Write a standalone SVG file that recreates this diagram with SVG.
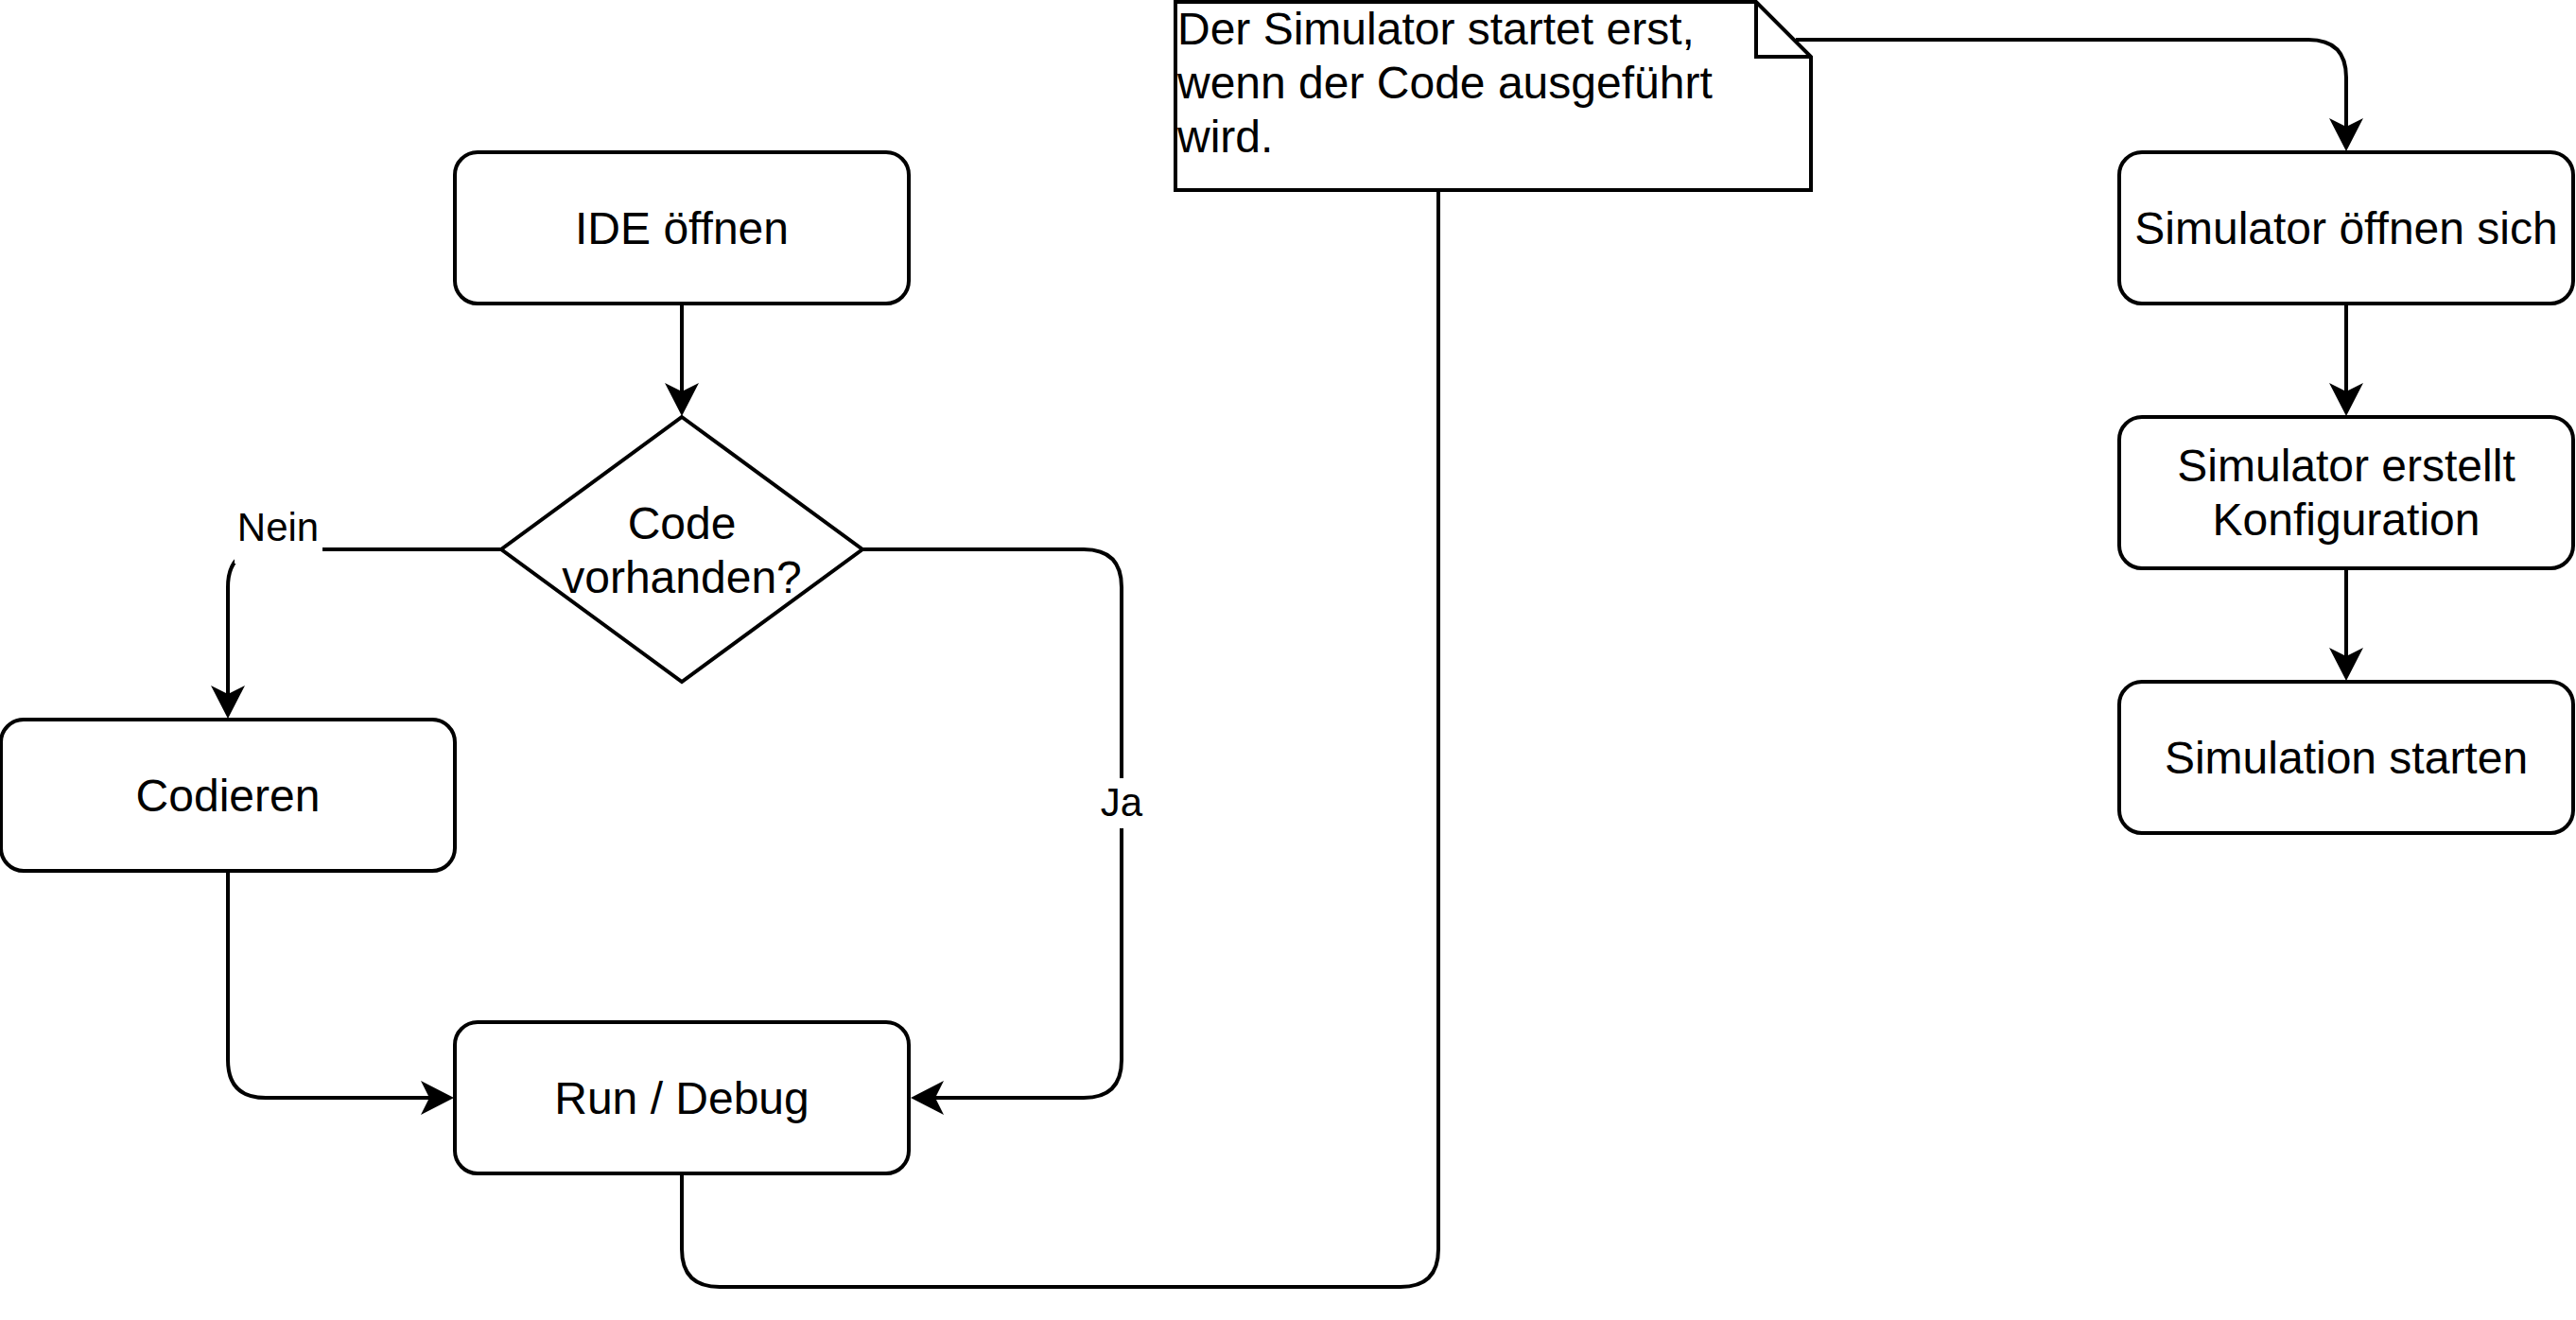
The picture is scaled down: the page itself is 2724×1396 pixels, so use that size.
<svg xmlns="http://www.w3.org/2000/svg" width="2724" height="1396" viewBox="0 0 2724 1396">
  <style>
    .node { fill: #ffffff; stroke: #000000; stroke-width: 4; }
    .edge { fill: none; stroke: #000000; stroke-width: 4; }
    .lbl { font-family: "Liberation Sans", Arial, Helvetica, sans-serif; font-size: 48px; fill: #000000; text-anchor: middle; }
    .note { font-family: "Liberation Sans", Arial, Helvetica, sans-serif; font-size: 48px; fill: #000000; text-anchor: start; }
    .elbl { font-family: "Liberation Sans", Arial, Helvetica, sans-serif; font-size: 42px; fill: #000000; text-anchor: middle; }
    .lblbg { fill: #ffffff; stroke: none; }
  </style>
  <defs>
    <marker id="arrow" markerUnits="userSpaceOnUse" viewBox="-16 -19 37 38" refX="0" refY="0" markerWidth="37" markerHeight="38" orient="auto" overflow="visible">
      <path d="M20,0 L-15,-18 L-6,0 L-15,18 Z" fill="#000000" stroke="none"/>
    </marker>
  </defs>
  <rect x="0" y="0" width="2724" height="1396" fill="#ffffff"/>

  <g id="connectors">
    <path class="edge" d="M721,321 V420" marker-end="url(#arrow)"/>
    <path class="edge" d="M530,581 H281 Q241,581 241,621 V740" marker-end="url(#arrow)"/>
    <path class="edge" d="M912,581 H1146 Q1186,581 1186,621 V1121 Q1186,1161 1146,1161 H983" marker-end="url(#arrow)"/>
    <path class="edge" d="M241,921 V1121 Q241,1161 281,1161 H460" marker-end="url(#arrow)"/>
    <path class="edge" d="M721,1241 V1321 Q721,1361 761,1361 H1481 Q1521,1361 1521,1321 V201"/>
    <path class="edge" d="M1899,42 H2441 Q2481,42 2481,82 V140" marker-end="url(#arrow)"/>
    <path class="edge" d="M2481,321 V420" marker-end="url(#arrow)"/>
    <path class="edge" d="M2481,601 V700" marker-end="url(#arrow)"/>
    <g id="label-nein">
      <rect class="lblbg" x="248" y="538" width="93" height="58"/>
      <text class="elbl" x="294" y="572">Nein</text>
    </g>
    <g id="label-ja">
      <rect class="lblbg" x="1163" y="823" width="47" height="53"/>
      <text class="elbl" x="1186" y="863">Ja</text>
    </g>
  </g>

  <g id="node-ide">
    <rect class="node" x="481" y="161" width="480" height="160" rx="24" ry="24"/>
    <text class="lbl" x="721" y="258">IDE öffnen</text>
  </g>
  <g id="node-decision">
    <path class="node" d="M721,441 L912,581 L721,721 L530,581 Z"/>
    <text class="lbl" x="721" y="570">Code</text>
    <text class="lbl" x="721" y="627">vorhanden?</text>
  </g>
  <g id="node-codieren">
    <rect class="node" x="1" y="761" width="480" height="160" rx="24" ry="24"/>
    <text class="lbl" x="241" y="858">Codieren</text>
  </g>
  <g id="node-run">
    <rect class="node" x="481" y="1081" width="480" height="160" rx="24" ry="24"/>
    <text class="lbl" x="721" y="1178">Run / Debug</text>
  </g>
  <g id="node-note">
    <path class="node" d="M1243,2 H1857 L1915,60 V201 H1243 Z"/>
    <path class="edge" d="M1857,2 V60 H1915"/>
    <text class="note" x="1245" y="47">Der Simulator startet erst,</text>
    <text class="note" x="1245" y="104">wenn der Code ausgeführt</text>
    <text class="note" x="1245" y="161">wird.</text>
  </g>
  <g id="node-sim-open">
    <rect class="node" x="2241" y="161" width="480" height="160" rx="24" ry="24"/>
    <text class="lbl" x="2481" y="258">Simulator öffnen sich</text>
  </g>
  <g id="node-sim-config">
    <rect class="node" x="2241" y="441" width="480" height="160" rx="24" ry="24"/>
    <text class="lbl" x="2481" y="509">Simulator erstellt</text>
    <text class="lbl" x="2481" y="566">Konfiguration</text>
  </g>
  <g id="node-sim-start">
    <rect class="node" x="2241" y="721" width="480" height="160" rx="24" ry="24"/>
    <text class="lbl" x="2481" y="818">Simulation starten</text>
  </g>
</svg>
